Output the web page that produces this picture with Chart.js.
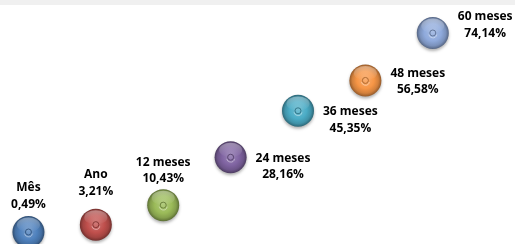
<!DOCTYPE html>
<html>
<head>
<meta charset="utf-8">
<script src="https://cdn.jsdelivr.net/npm/chart.js@4"></script>
<style>
  html, body { margin: 0; padding: 0; background: #fff; }
  #wrap { width: 515px; height: 244px; }
</style>
</head>
<body>
<div id="wrap"><canvas id="rentabilidade"></canvas></div>
<script>
const periodos = ["Mês", "Ano", "12 meses", "24 meses", "36 meses", "48 meses", "60 meses"];
const rentabilidade = [0.49, 3.21, 10.43, 28.16, 45.35, 56.58, 74.14];
const rotulos = ["0,49%", "3,21%", "10,43%", "28,16%", "45,35%", "56,58%", "74,14%"];

const cores = ["#4f81bd", "#c0504d", "#9bbb59", "#8064a2", "#4bacc6", "#f79646", "#8faadc"];
// where each label sits relative to its bubble
const labelLayout = [
  { pos: "top", dy: -44 },
  { pos: "top", dy: -50 },
  { pos: "top", dy: -43 },
  { pos: "right", dy: 1 },
  { pos: "right", dy: 1 },
  { pos: "right", dy: -7 },
  { pos: "right", dy: -16 },
];

function shade(hex, f) {
  const n = parseInt(hex.slice(1), 16);
  let r = (n >> 16) & 255, g = (n >> 8) & 255, b = n & 255;
  if (f < 0) { r *= 1 + f; g *= 1 + f; b *= 1 + f; }
  else { r += (255 - r) * f; g += (255 - g) * f; b += (255 - b) * f; }
  return `rgb(${Math.round(r)},${Math.round(g)},${Math.round(b)})`;
}

const fundo = {
  id: "fundo",
  beforeDraw(chart) {
    const { ctx, width } = chart;
    ctx.save();
    ctx.fillStyle = "#f0f0f0";
    ctx.fillRect(0, 0, width, 5);
    ctx.restore();
  },
};

const esferas = {
  id: "esferas",
  afterDatasetsDraw(chart) {
    const ctx = chart.ctx;
    const meta = chart.getDatasetMeta(0);
    meta.data.forEach((pt, i) => {
      const { x, y } = pt.getProps(["x", "y"], true);
      const r = pt.options.radius;
      const c = cores[i];
      ctx.save();
      // soft shadow
      ctx.shadowColor = "rgba(0,0,0,0.3)";
      ctx.shadowBlur = 3;
      ctx.shadowOffsetY = 2;
      const g = ctx.createRadialGradient(x, y - 1, 1, x, y, r);
      g.addColorStop(0, shade(c, 0.2));
      g.addColorStop(0.5, c);
      g.addColorStop(0.8, shade(c, -0.15));
      g.addColorStop(1, shade(c, -0.4));
      ctx.fillStyle = g;
      ctx.beginPath();
      ctx.arc(x, y, r, 0, Math.PI * 2);
      ctx.fill();
      ctx.restore();
      // top highlight
      ctx.save();
      const h = ctx.createLinearGradient(x, y - r, x, y);
      h.addColorStop(0, "rgba(255,255,255,0.4)");
      h.addColorStop(1, "rgba(255,255,255,0)");
      ctx.fillStyle = h;
      ctx.beginPath();
      ctx.ellipse(x, y - r * 0.45, r * 0.72, r * 0.45, 0, 0, Math.PI * 2);
      ctx.fill();
      // center dimple
      ctx.strokeStyle = shade(c, -0.3);
      ctx.lineWidth = 1;
      ctx.beginPath();
      ctx.arc(x, y, 3, 0, Math.PI * 2);
      ctx.stroke();
      ctx.strokeStyle = "rgba(255,255,255,0.4)";
      ctx.beginPath();
      ctx.arc(x, y + 0.8, 4, 0.2, Math.PI - 0.2);
      ctx.stroke();
      ctx.restore();
    });
  },
};

const rotulosPlugin = {
  id: "rotulos",
  afterDraw(chart) {
    const ctx = chart.ctx;
    const meta = chart.getDatasetMeta(0);
    ctx.save();
    ctx.font = "bold 12px 'Open Sans'";
    ctx.fillStyle = "#000";
    ctx.textBaseline = "middle";
    ctx.textAlign = "center";
    meta.data.forEach((pt, i) => {
      const { x, y } = pt.getProps(["x", "y"], true);
      const lay = labelLayout[i];
      const w = Math.max(ctx.measureText(periodos[i]).width, ctx.measureText(rotulos[i]).width);
      const tx = lay.pos === "top" ? x : x + 25 + w / 2;
      const ty = y + lay.dy;
      ctx.fillText(periodos[i], tx, ty);
      ctx.fillText(rotulos[i], tx, ty + 16.5);
    });
    ctx.restore();
  },
};

new Chart(document.getElementById("rentabilidade"), {
  type: "scatter",
  data: {
    datasets: [
      {
        data: rentabilidade.map((v, i) => ({ x: i + 1, y: v })),
        pointRadius: 16,
        pointHoverRadius: 16,
        backgroundColor: "rgba(0,0,0,0)",
        borderWidth: 0,
        clip: false,
      },
    ],
  },
  options: {
    responsive: true,
    maintainAspectRatio: false,
    animation: false,
    events: [],
    layout: { padding: 0, autoPadding: false },
    plugins: {
      legend: { display: false },
      tooltip: { enabled: false },
    },
    scales: {
      x: { type: "linear", display: false, min: 0.578, max: 8.22 },
      y: { type: "linear", display: false, min: -3.95, max: 86.35 },
    },
  },
  plugins: [fundo, esferas, rotulosPlugin],
});
</script>
</body>
</html>
